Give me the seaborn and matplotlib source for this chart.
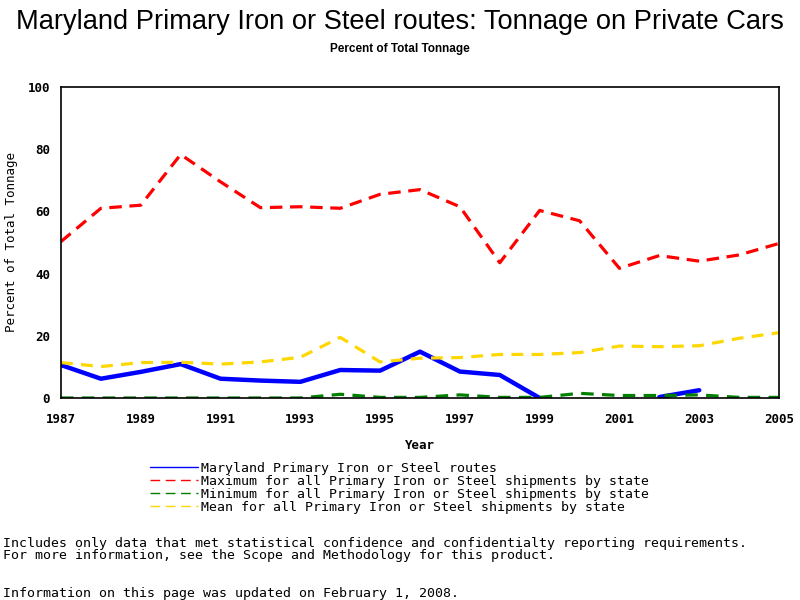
import numpy as np
import pandas as pd
import matplotlib
matplotlib.use("Agg")
import matplotlib.pyplot as plt
from matplotlib.lines import Line2D
import seaborn as sns

# values (percent of total tonnage)
years = list(range(1987, 2006))
maryland = [10.6, 6.2, 8.4, 10.9, 6.2, 5.6, 5.2, 9.0, 8.8, 14.9,
            8.5, 7.4, 0.0, np.nan, np.nan, 0.3, 2.5, np.nan, np.nan]
maximum = [50.3, 61.0, 62.0, 78.3, 69.5, 61.2, 61.5, 61.0, 65.5, 67.0,
           61.5, 43.5, 60.3, 57.0, 41.7, 45.8, 44.0, 46.0, 49.7]
minimum = [0.0, 0.0, 0.0, 0.0, 0.0, 0.0, 0.0, 1.2, 0.2, 0.2,
           1.0, 0.2, 0.2, 1.5, 0.8, 0.8, 1.0, 0.2, 0.2]
mean = [11.4, 10.1, 11.4, 11.5, 10.9, 11.6, 13.1, 19.5, 11.6, 12.8,
        13.0, 14.0, 14.0, 14.6, 16.7, 16.5, 16.8, 19.2, 21.0]

labels = ["Maryland Primary Iron or Steel routes",
          "Maximum for all Primary Iron or Steel shipments by state",
          "Minimum for all Primary Iron or Steel shipments by state",
          "Mean for all Primary Iron or Steel shipments by state"]
colors = ["#0000ff", "#ff0000", "#008000", "#ffd700"]

sns.set_style("white")
plt.rcParams["lines.scale_dashes"] = False
for k in ["text.color", "axes.labelcolor", "xtick.color", "ytick.color"]:
    plt.rcParams[k] = "black"
mono = "DejaVu Sans Mono"

fig = plt.figure(figsize=(8, 6), dpi=100)
ax = fig.add_axes([61 / 800, 1 - 398 / 600, 718 / 800, 311 / 600])

# Maryland series has gaps, so split it into runs to keep them unconnected
md = pd.DataFrame({"Year": years, "Value": maryland})
md["run"] = md["Value"].isna().cumsum()
md = md.dropna()
sns.lineplot(data=md, x="Year", y="Value", units="run", estimator=None,
             color=colors[0], lw=3.2, ax=ax)

sns.lineplot(x=years, y=maximum, color=colors[1], lw=2.3, ax=ax).lines[-1].set_dashes((9, 5.5))
sns.lineplot(x=years, y=mean, color=colors[3], lw=2.3, ax=ax).lines[-1].set_dashes((8.5, 6))
sns.lineplot(x=years, y=minimum, color=colors[2], lw=2.3, ax=ax).lines[-1].set_dashes((9, 6))

ax.set_xlim(1987, 2005)
ax.set_ylim(0, 100)
ax.set_xticks(range(1987, 2006, 2))
ax.set_yticks(range(0, 101, 20))
for s in ax.spines.values():
    s.set_color("black")
    s.set_linewidth(1.2)
ax.tick_params(axis="x", direction="out", length=6, width=1.2, pad=5, color="black")
ax.tick_params(axis="y", direction="out", length=5, width=1.2, pad=3, color="black")
for t in ax.get_xticklabels() + ax.get_yticklabels():
    t.set_fontfamily(mono)
    t.set_fontweight("bold")
    t.set_fontsize(9)
ax.set_xlabel("Year", fontfamily=mono, fontweight="bold", fontsize=9, labelpad=9)
ax.set_ylabel("Percent of Total Tonnage", fontfamily=mono, fontsize=9)
ax.yaxis.set_label_coords((18 - 61) / 718, 0.5)

fig.text(0.5, 1 - 22 / 600, "Maryland Primary Iron or Steel routes: Tonnage on Private Cars",
         ha="center", va="center", fontfamily="Liberation Sans", fontsize=19.6)
fig.text(0.5, 1 - 49 / 600, "Percent of Total Tonnage", ha="center", va="center",
         fontfamily="Liberation Sans", fontweight="bold", fontsize=8.5)

handles = [Line2D([], [], color=colors[0], lw=1),
           Line2D([], [], color=colors[1], lw=1, dashes=(7, 4)),
           Line2D([], [], color=colors[2], lw=1, dashes=(7, 4)),
           Line2D([], [], color=colors[3], lw=1, dashes=(7, 4))]
fig.legend(handles, labels, loc="upper left", bbox_to_anchor=(150 / 800, 1 - 462 / 600),
           frameon=False, prop={"family": mono, "size": 9.5}, handlelength=3.6,
           handletextpad=0.3, labelspacing=0.0, borderpad=0, borderaxespad=0)

notes = [(543, "Includes only data that met statistical confidence and confidentialty reporting requirements."),
         (556, "For more information, see the Scope and Methodology for this product."),
         (594, "Information on this page was updated on February 1, 2008.")]
for y, txt in notes:
    fig.text(3 / 800, 1 - y / 600, txt, ha="left", va="center", fontfamily=mono, fontsize=9.5)

fig.savefig("out.png", dpi=100)
